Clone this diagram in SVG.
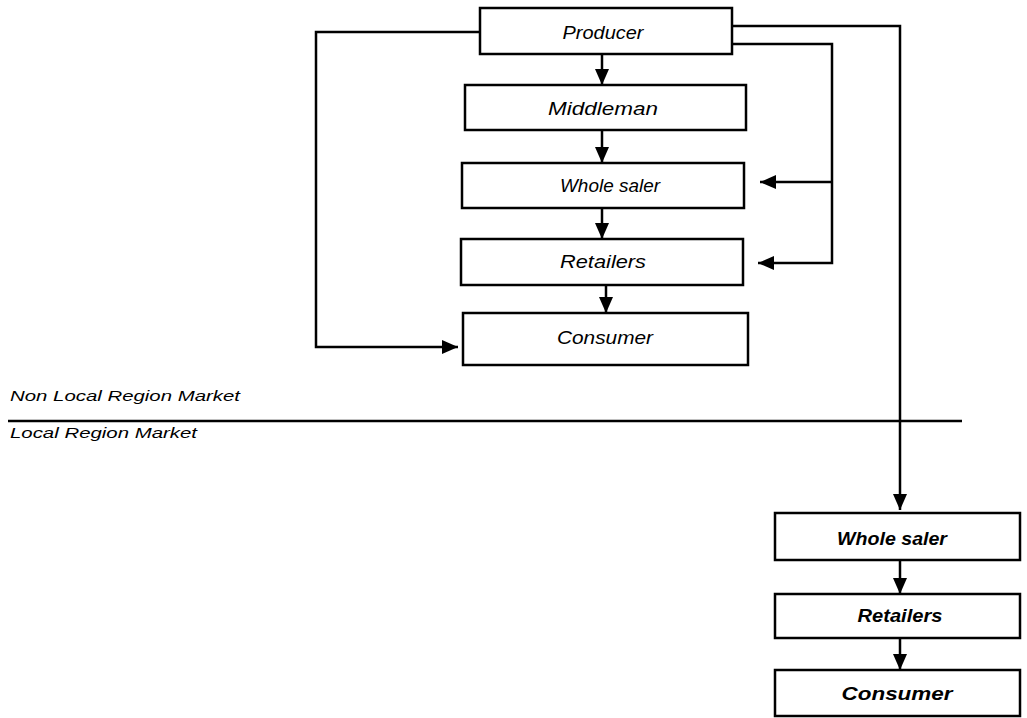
<svg xmlns="http://www.w3.org/2000/svg" width="1027" height="718" viewBox="0 0 1027 718">
<style>
.box{fill:#fff;stroke:#000;stroke-width:2.5}
.t{font-family:"Liberation Sans",Arial,sans-serif;font-style:italic;font-size:18px;fill:#000;text-anchor:middle}
.tb{font-weight:bold}
.lbl{font-family:"Liberation Sans",Arial,sans-serif;font-style:italic;font-size:15px;fill:#000}
.c{fill:none;stroke:#000;stroke-width:2.5}
</style>
<defs>
<marker id="ah" viewBox="0 0 16 14" refX="16" refY="7" markerWidth="16" markerHeight="14" markerUnits="userSpaceOnUse" orient="auto">
<path d="M0,0 L16,7 L0,14 Z" fill="#000"/>
</marker>
</defs>
<rect width="1027" height="718" fill="#fff"/>
<g id="connectors">
<line class="c" x1="602" y1="54" x2="602" y2="85" marker-end="url(#ah)"/>
<line class="c" x1="602" y1="130" x2="602" y2="163" marker-end="url(#ah)"/>
<line class="c" x1="602" y1="208" x2="602" y2="239" marker-end="url(#ah)"/>
<line class="c" x1="606" y1="285" x2="606" y2="313" marker-end="url(#ah)"/>
<polyline class="c" points="480,32 316,32 316,347 458,347" marker-end="url(#ah)"/>
<polyline class="c" points="732,44 832,44 832,263 758,263" marker-end="url(#ah)"/>
<line class="c" x1="832" y1="182" x2="760" y2="182" marker-end="url(#ah)"/>
<polyline class="c" points="732,26 900,26 900,510" marker-end="url(#ah)"/>
<line class="c" x1="900" y1="560" x2="900" y2="594" marker-end="url(#ah)"/>
<line class="c" x1="900" y1="638" x2="900" y2="670" marker-end="url(#ah)"/>
<line class="c" x1="8" y1="421" x2="962" y2="421"/>
</g>
<g id="producer"><rect class="box" x="480" y="8" width="252" height="46"/><text class="t" x="603" y="39" textLength="81" lengthAdjust="spacingAndGlyphs">Producer</text></g>
<g id="middleman"><rect class="box" x="465" y="85" width="281" height="45"/><text class="t" x="603" y="115" textLength="110" lengthAdjust="spacingAndGlyphs">Middleman</text></g>
<g id="wholesaler1"><rect class="box" x="462" y="163" width="282" height="45"/><text class="t" x="610" y="192" textLength="100" lengthAdjust="spacingAndGlyphs">Whole saler</text></g>
<g id="retailers1"><rect class="box" x="461" y="239" width="282" height="46"/><text class="t" x="603" y="268" textLength="86" lengthAdjust="spacingAndGlyphs">Retailers</text></g>
<g id="consumer1"><rect class="box" x="463" y="313" width="285" height="52"/><text class="t" x="605" y="344" textLength="96" lengthAdjust="spacingAndGlyphs">Consumer</text></g>
<g id="wholesaler2"><rect class="box" x="775" y="513" width="245" height="47"/><text class="t tb" x="892" y="545" textLength="110" lengthAdjust="spacingAndGlyphs">Whole saler</text></g>
<g id="retailers2"><rect class="box" x="775" y="594" width="245" height="44"/><text class="t tb" x="900" y="622" textLength="85" lengthAdjust="spacingAndGlyphs">Retailers</text></g>
<g id="consumer2"><rect class="box" x="775" y="670" width="245" height="46"/><text class="t tb" x="897" y="700" textLength="111" lengthAdjust="spacingAndGlyphs">Consumer</text></g>
<g id="labels">
<text class="lbl" x="10" y="401" textLength="230" lengthAdjust="spacingAndGlyphs">Non Local Region Market</text>
<text class="lbl" x="10" y="438" textLength="187" lengthAdjust="spacingAndGlyphs">Local Region Market</text>
</g>
</svg>
